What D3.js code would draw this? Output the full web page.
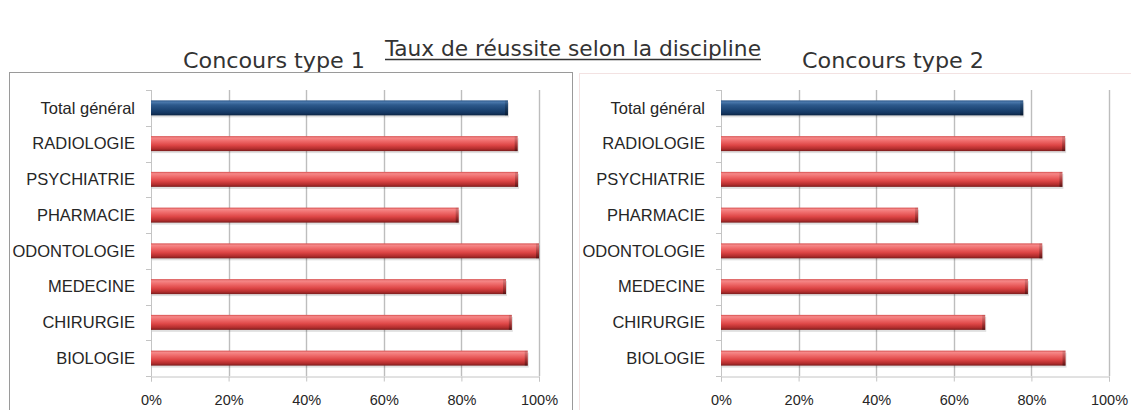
<!DOCTYPE html>
<html>
<head>
<meta charset="utf-8">
<script src="https://cdn.jsdelivr.net/npm/d3@7"></script>
<style>
  body { margin: 0; background: #fff; }
  svg { display: block; }
</style>
</head>
<body>
<div id="chart"></div>
<script>
// Data
const categories = ['Total général', 'RADIOLOGIE', 'PSYCHIATRIE', 'PHARMACIE',
  'ODONTOLOGIE', 'MEDECINE', 'CHIRURGIE', 'BIOLOGIE'];
const type1Values = [0.92, 0.945, 0.946, 0.793, 1.0, 0.915, 0.93, 0.971];
const type2Values = [0.779, 0.887, 0.88, 0.508, 0.828, 0.791, 0.681, 0.888];
const tickValues = [0, 0.2, 0.4, 0.6, 0.8, 1.0];
const mainTitle = 'Taux de réussite selon la discipline';
const panelTitles = ['Concours type 1', 'Concours type 2'];

const width = 1131;
const height = 410;
const titleFont = '"DejaVu Sans Condensed", "DejaVu Sans", sans-serif';
const labelFont = '"Liberation Sans", Arial, sans-serif';

const svg = d3.select('#chart')
  .append('svg')
  .attr('width', width)
  .attr('height', height);

const defs = svg.append('defs');

// Cylinder-like gradients for the bars
function addGradient(id, stops) {
  const grad = defs.append('linearGradient')
    .attr('id', id)
    .attr('x1', 0).attr('y1', 0).attr('x2', 0).attr('y2', 1);
  stops.forEach(([o, c]) => grad.append('stop').attr('offset', o).attr('stop-color', c));
}
addGradient('redBar', [[0, '#d64e4e'], [0.12, '#f58888'], [0.3, '#f06e6e'], [0.6, '#de4646'], [0.85, '#b22d2d'], [1, '#7a1d1d']]);
addGradient('blueBar', [[0, '#2a5689'], [0.12, '#4a78ab'], [0.3, '#2d5a8c'], [0.6, '#1d4675'], [0.85, '#143660'], [1, '#0b2342']]);
addGradient('capShade', [[0, 'rgba(0,0,0,0.1)'], [1, 'rgba(0,0,0,0.35)']]);

// Main title, underlined
const titleX = 573;
const titleW = 376;
svg.append('text')
  .attr('x', titleX)
  .attr('y', 56)
  .attr('text-anchor', 'middle')
  .attr('font-family', titleFont)
  .attr('font-size', 22)
  .attr('fill', '#333')
  .attr('textLength', titleW)
  .attr('lengthAdjust', 'spacingAndGlyphs')
  .text(mainTitle);
svg.append('line')
  .attr('x1', titleX - titleW / 2).attr('x2', titleX + titleW / 2)
  .attr('y1', 59.5).attr('y2', 59.5)
  .attr('stroke', '#333')
  .attr('stroke-width', 1.3);

// Panel frames
svg.append('rect')
  .attr('x', 9.5).attr('y', 72.5)
  .attr('width', 563).attr('height', 360)
  .attr('fill', 'none')
  .attr('stroke', '#9a9a9a');
svg.append('rect')
  .attr('x', 579.5).attr('y', 73.5)
  .attr('width', 580).attr('height', 360)
  .attr('fill', 'none')
  .attr('stroke', '#f3e2e2');

const panels = [
  { values: type1Values, title: panelTitles[0], titleX: 274, x0: 151, x1: 539 },
  { values: type2Values, title: panelTitles[1], titleX: 893, x0: 721, x1: 1109 }
];

const plotTop = 90;
const plotBottom = 376;

panels.forEach(p => drawPanel(p));

function drawPanel(p) {
  svg.append('text')
    .attr('x', p.titleX)
    .attr('y', 68)
    .attr('text-anchor', 'middle')
    .attr('font-family', titleFont)
    .attr('font-size', 22)
    .attr('fill', '#333')
    .attr('textLength', 182)
    .attr('lengthAdjust', 'spacingAndGlyphs')
    .text(p.title);

  const x = d3.scaleLinear().domain([0, 1]).range([p.x0, p.x1]);
  const y = d3.scaleBand().domain(categories).range([plotTop, plotBottom]);
  const g = svg.append('g');

  // Vertical gridlines
  g.append('g')
    .selectAll('line')
    .data(tickValues.slice(1))
    .join('line')
    .attr('x1', d => Math.round(x(d)) + 0.5)
    .attr('x2', d => Math.round(x(d)) + 0.5)
    .attr('y1', plotTop)
    .attr('y2', plotBottom)
    .attr('stroke', '#bdbdbd')
    .attr('stroke-width', 1.4);

  // X axis
  const xAxis = g.append('g')
    .attr('transform', `translate(0,${plotBottom + 0.5})`)
    .call(d3.axisBottom(x).tickValues(tickValues).tickFormat(d3.format('.0%')).tickSizeOuter(0).tickSize(5).tickPadding(13));
  xAxis.select('.domain').attr('stroke', '#c4c4c4');
  xAxis.selectAll('.tick line').attr('stroke', '#c4c4c4');
  xAxis.selectAll('.tick text')
    .attr('font-family', labelFont)
    .attr('font-size', 14.5)
    .attr('fill', '#262626');

  // Y axis with ticks between categories
  g.append('line')
    .attr('x1', p.x0 + 0.5).attr('x2', p.x0 + 0.5)
    .attr('y1', plotTop).attr('y2', plotBottom)
    .attr('stroke', '#c4c4c4');
  g.append('g')
    .selectAll('line')
    .data(d3.range(categories.length + 1))
    .join('line')
    .attr('x1', p.x0 - 5).attr('x2', p.x0 + 0.5)
    .attr('y1', i => Math.round(plotTop + i * y.step()) + 0.5)
    .attr('y2', i => Math.round(plotTop + i * y.step()) + 0.5)
    .attr('stroke', '#c4c4c4');

  g.append('g')
    .selectAll('text')
    .data(categories)
    .join('text')
    .attr('x', p.x0 - 16)
    .attr('y', d => y(d) + y.bandwidth() / 2)
    .attr('dy', '0.35em')
    .attr('text-anchor', 'end')
    .attr('font-family', labelFont)
    .attr('font-size', 16.5)
    .attr('fill', '#262626')
    .text(d => d);

  // Bars
  const barH = 15;
  const bars = g.append('g')
    .selectAll('g')
    .data(categories.map((c, i) => ({ cat: c, value: p.values[i], total: i === 0 })))
    .join('g');

  bars.append('rect')
    .attr('x', x(0) + 1)
    .attr('y', d => y(d.cat) + y.bandwidth() / 2 - barH / 2 + 2)
    .attr('width', d => x(d.value) - x(0))
    .attr('height', barH)
    .attr('fill', 'rgba(0,0,0,0.12)');

  bars.append('rect')
    .attr('x', x(0))
    .attr('y', d => y(d.cat) + y.bandwidth() / 2 - barH / 2)
    .attr('width', d => x(d.value) - x(0))
    .attr('height', barH)
    .attr('fill', d => d.total ? 'url(#blueBar)' : 'url(#redBar)');

  // Darker end cap
  bars.append('rect')
    .attr('x', d => x(d.value) - 3)
    .attr('y', d => y(d.cat) + y.bandwidth() / 2 - barH / 2)
    .attr('width', 3)
    .attr('height', barH)
    .attr('fill', 'url(#capShade)');
}
</script>
</body>
</html>
